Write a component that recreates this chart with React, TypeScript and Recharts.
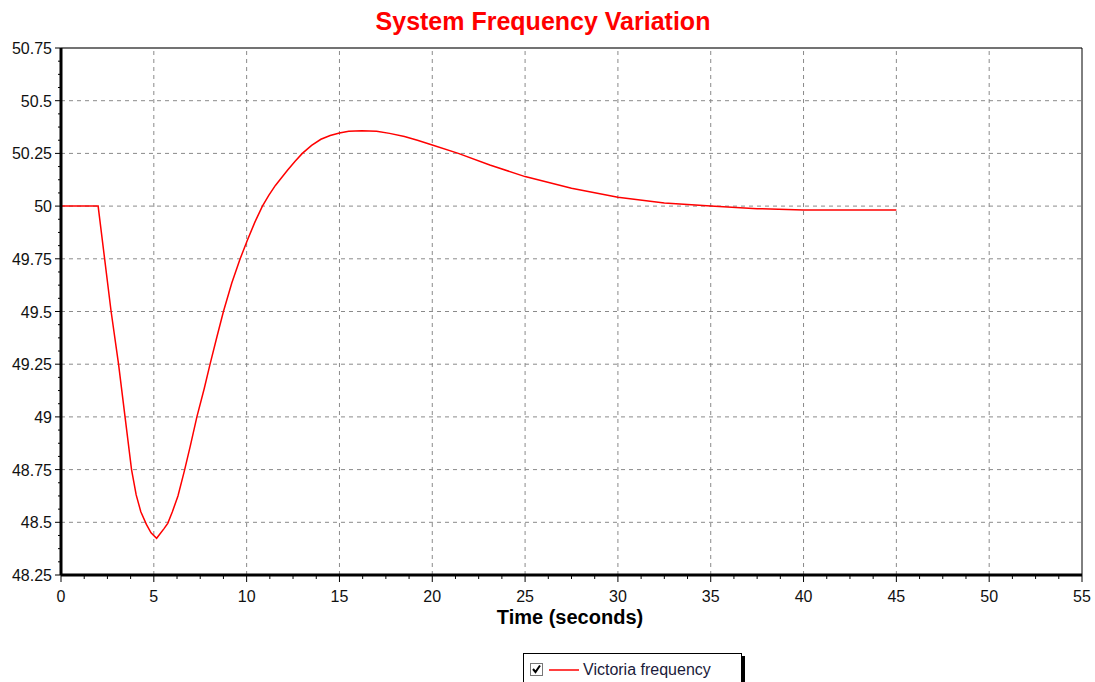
import { LineChart, Line, XAxis, YAxis, ReferenceLine } from 'recharts';

// time (s) and frequency (Hz)
const times = [
  0, 2, 2.35, 2.7, 3.1, 3.45, 3.8, 4.05, 4.3, 4.6, 4.85, 5.15, 5.55, 5.75, 6.0, 6.3, 6.65,
  6.96, 7.32, 7.72, 8.03, 8.4, 8.75, 9.2, 9.65, 10.05, 10.45, 10.85, 11.2, 11.55, 12.2, 12.6, 13.0,
  13.5, 14.0, 14.5, 15.0, 15.5, 16.2, 17.0, 17.7, 18.5, 19.2, 20, 21.4, 23.1, 25, 27.5, 30, 32.5,
  35, 37.5, 40, 45,
];
const victoria = [
  50.0, 50.0, 49.75, 49.5, 49.25, 49.0, 48.75, 48.63, 48.55, 48.49, 48.45, 48.424, 48.47, 48.495, 48.55, 48.625, 48.745,
  48.86, 49.0, 49.136, 49.25, 49.38, 49.5, 49.635, 49.75, 49.84, 49.925, 50.0, 50.052, 50.098, 50.17, 50.212, 50.25,
  50.288, 50.317, 50.335, 50.347, 50.355, 50.357, 50.355, 50.345, 50.33, 50.312, 50.29, 50.25, 50.195, 50.14, 50.085, 50.042, 50.015,
  50.0, 49.988, 49.982, 49.982,
];

const xMajor = [0, 5, 10, 15, 20, 25, 30, 35, 40, 45, 50, 55];
const yMajor = [48.25, 48.5, 48.75, 49, 49.25, 49.5, 49.75, 50, 50.25, 50.5, 50.75];

// minor ticks: 4 steps between every major
const subdivide = (major: number[]) => {
  const out: number[] = [];
  for (let i = 0; i < major.length - 1; i++) {
    const step = (major[i + 1] - major[i]) / 4;
    for (let k = 0; k < 4; k++) out.push(major[i] + k * step);
  }
  out.push(major[major.length - 1]);
  return out;
};
const xTicks = subdivide(xMajor);
const yTicks = subdivide(yMajor);

const data = times.map((t, i) => ({ t, f: victoria[i] }));

const XTick = (props: any) => {
  const { x, y, payload } = props;
  const major = xMajor.includes(payload.value);
  return (
    <g>
      <line x1={x} x2={x} y1={y} y2={y + (major ? 7 : 4)} stroke="#000" strokeWidth={1} />
      {major && (
        <text x={x} y={y + 27} textAnchor="middle" fontSize={16} fill="#111">
          {payload.value}
        </text>
      )}
    </g>
  );
};

const YTick = (props: any) => {
  const { x, y, payload } = props;
  const major = yMajor.includes(payload.value);
  return (
    <g>
      <line x1={x - (major ? 6 : 3)} x2={x} y1={y} y2={y} stroke="#000" strokeWidth={1} />
      {major && (
        <text x={x - 9} y={y + 6} textAnchor="end" fontSize={16} fill="#111">
          {payload.value}
        </text>
      )}
    </g>
  );
};

const grid = { stroke: '#8a8a8a', strokeDasharray: '4 4', strokeWidth: 1 };

export default function App() {
  return (
    <div
      style={{
        position: 'absolute', left: 0, top: 0, width: 1095, height: 682, background: '#fff',
        fontFamily: 'Arial, "Liberation Sans", sans-serif', overflow: 'hidden',
      }}
    >
      <div
        style={{
          position: 'absolute', left: 0, width: 1086, top: 7, textAlign: 'center',
          color: '#ff0000', fontWeight: 'bold', fontSize: 25,
        }}
      >
        System Frequency Variation
      </div>

      <LineChart width={1095} height={682} data={data} margin={{ top: 48, right: 13, left: 0, bottom: 0 }}>
        {xMajor.slice(1, -1).map((v) => (
          <ReferenceLine key={'x' + v} x={v} {...grid} />
        ))}
        {yMajor.slice(1, -1).map((v) => (
          <ReferenceLine key={'y' + v} y={v} {...grid} />
        ))}
        <ReferenceLine y={50.75} stroke="#444" strokeWidth={1.5} />
        <ReferenceLine x={55} stroke="#000" strokeWidth={1} />
        <XAxis
          dataKey="t"
          type="number"
          domain={[0, 55]}
          ticks={xTicks}
          interval={0}
          height={107}
          tickSize={0}
          tickMargin={0}
          tickLine={false}
          axisLine={{ stroke: '#000', strokeWidth: 3 }}
          tick={<XTick />}
        />
        <YAxis
          type="number"
          domain={[48.25, 50.75]}
          ticks={yTicks}
          interval={0}
          width={61}
          tickSize={0}
          tickMargin={0}
          tickLine={false}
          axisLine={{ stroke: '#000', strokeWidth: 3 }}
          tick={<YTick />}
        />
        <Line
          type="linear"
          dataKey="f"
          stroke="#ff0000"
          strokeWidth={1.5}
          dot={false}
          isAnimationActive={false}
        />
      </LineChart>

      <div
        style={{
          position: 'absolute', left: 0, width: 1140, top: 606, textAlign: 'center',
          color: '#000', fontWeight: 'bold', fontSize: 20,
        }}
      >
        Time (seconds)
      </div>

      <div
        style={{
          position: 'absolute', left: 523, top: 653, width: 217, height: 40,
          border: '1px solid #000', boxShadow: '3px 3px 0 #000', background: '#fff',
        }}
      >
        <svg width={60} height={24} style={{ position: 'absolute', left: 0, top: 0 }}>
          <rect x={6.5} y={9.5} width={12} height={12} fill="#fff" stroke="#777" />
          <polyline points="9,15 11.5,18 16,11.5" fill="none" stroke="#000" strokeWidth={2} />
          <line x1={25} x2={55} y1={16} y2={16} stroke="#ff0000" strokeWidth={1.5} />
        </svg>
        <div style={{ position: 'absolute', left: 59, top: 7, fontSize: 16, color: '#1a1a3a' }}>
          Victoria frequency
        </div>
      </div>
    </div>
  );
}
